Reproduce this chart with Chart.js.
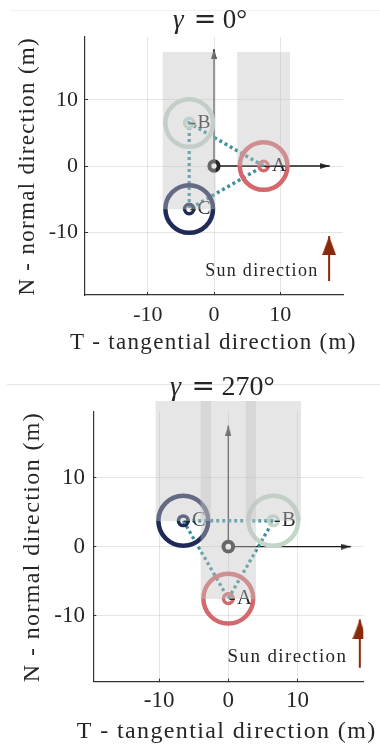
<!DOCTYPE html>
<html>
<head>
<meta charset="utf-8">
<script src="https://cdn.jsdelivr.net/npm/chart.js@4/dist/chart.umd.min.js"></script>
<style>
  html, body { margin: 0; padding: 0; background: #ffffff; }
  body { width: 380px; height: 745px; position: relative; overflow: hidden; }
  canvas { position: absolute; left: 0; }
  .rule { position: absolute; height: 1px; }
</style>
</head>
<body>
<div class="rule" style="left:10px; top:10px; width:370px; background:#f1f1f1;"></div>
<div class="rule" style="left:7px; top:384px; width:373px; background:#e6e6e6;"></div>
<canvas id="gamma0" width="380" height="370" style="top:0;"></canvas>
<canvas id="gamma270" width="380" height="375" style="top:370px;"></canvas>

<script>
// Formation of three spacecraft in the T-N plane for two sun angles.
const SAT_NAMES = ['A', 'B', 'C'];

// gamma = 0 deg
const T_0 = [7.5, -3.75, -3.75];
const N_0 = [0, 6.5, -6.5];
const SHADOW_T_0 = [-3.75, 7.5];
const SHADOW_FROM_0 = [-6.5, 0];
const SHADOW_TO_0 = [17.2, 17.2];
const SUN_ARROW_0 = [17.4, -17.4, -10.6];   // T, tail N, tip N
const AXIS_ARROW_0 = [17.5, 17.7];          // tip of T arrow, tip of N arrow
const SUN_TEXT_0 = [15.8, -15.9];

// gamma = 270 deg
const T_270 = [0, 6.5, -6.5];
const N_270 = [-7.5, 3.75, 3.75];
const SHADOW_T_270 = [-6.5, 0, 6.5];
const SHADOW_FROM_270 = [3.75, -7.5, 3.75];
const SHADOW_TO_270 = [21, 21, 21];
const SUN_ARROW_270 = [19.0, -17.5, -10.5];
const AXIS_ARROW_270 = [17.7, 17.5];
const SUN_TEXT_270 = [17.2, -16.0];

const TICK_VALUES = [-10, 0, 10];
const TICK_LABELS = ['-10', '0', '10'];
const AXIS_RANGE = [-19.5, 19.5];

// physical sizes in metres
const RING_R = 3.6;
const HUB_R = 0.7;
const SHADOW_W = 7.9;

const X_TITLE = 'T - tangential direction (m)';
const Y_TITLE = 'N - normal direction (m)';

const FONT = '"Liberation Serif", "Times New Roman", serif';
const TEXT = '#262626';
const GRID = 'rgba(38,38,38,0.12)';
const SAT_COLORS = ['#d4696d', '#c3d7c8', '#1f2a56'];
const ORIGIN_COLOR = '#262626';
const LINK_COLOR = '#3d8f9b';
const SUN_COLOR = '#8b2a0a';
const SHADE = 'rgba(196,196,196,0.42)';

// arrow head image with its tip in the middle of the canvas, pointing up
function headImage(w, len, color) {
  const c = document.createElement('canvas');
  c.width = Math.ceil(w);
  c.height = Math.ceil(len * 2);
  const g = c.getContext('2d');
  g.fillStyle = color;
  g.beginPath();
  g.moveTo(w / 2, len);
  g.lineTo(w, 2 * len);
  g.lineTo(0, 2 * len);
  g.closePath();
  g.fill();
  return c;
}

function unitPx(chart) {
  const s = chart.scales.x;
  return Math.abs(s.getPixelForValue(1) - s.getPixelForValue(0));
}

function points(T, N) {
  return T.map((t, i) => ({ x: t, y: N[i] }));
}

const annotate = {
  id: 'annotate',
  afterDatasetDraw(chart, args, o) {
    if (chart.data.datasets[args.index].label !== 'hubs') return;
    const ctx = chart.ctx, xs = chart.scales.x, ys = chart.scales.y;
    ctx.save();
    ctx.letterSpacing = o.spacing + 'px';
    ctx.font = o.labelSize + 'px ' + FONT;
    ctx.fillStyle = TEXT;
    ctx.textAlign = 'left';
    ctx.textBaseline = 'middle';
    o.names.forEach((name, i) => {
      ctx.fillText('-' + name, xs.getPixelForValue(o.T[i]) + 0.5, ys.getPixelForValue(o.N[i]));
    });
    ctx.restore();
  },
  afterDraw(chart, args, o) {
    const ctx = chart.ctx, xs = chart.scales.x, ys = chart.scales.y;
    ctx.save();
    ctx.fillStyle = TEXT;
    ctx.letterSpacing = o.spacing + 'px';

    // sun label
    ctx.font = o.sunSize + 'px ' + FONT;
    ctx.textAlign = 'right';
    ctx.textBaseline = 'middle';
    ctx.fillText('Sun direction', xs.getPixelForValue(o.sunText[0]), ys.getPixelForValue(o.sunText[1]));

    // axis titles
    ctx.font = o.axisTitleSize + 'px ' + FONT;
    ctx.textAlign = 'center';
    ctx.fillText(X_TITLE, o.xTitle[0], o.xTitle[1]);
    ctx.save();
    ctx.translate(o.yTitle[0], o.yTitle[1]);
    ctx.rotate(-Math.PI / 2);
    ctx.fillText(Y_TITLE, 0, 0);
    ctx.restore();

    // title: gamma = value
    ctx.letterSpacing = '0px';
    ctx.textAlign = 'left';
    ctx.textBaseline = 'alphabetic';
    const sz = o.titleSize;
    let x = o.titleX;
    ctx.font = 'italic ' + sz + 'px ' + FONT;
    ctx.fillText('\u03B3', x, o.titleY);
    x += ctx.measureText('\u03B3').width + 0.37 * sz;
    ctx.font = sz + 'px "DejaVu Serif"';
    ctx.fillText('=', x, o.titleY);
    x += ctx.measureText('=').width + 0.24 * sz;
    ctx.font = sz + 'px ' + FONT;
    ctx.fillText(o.value, x, o.titleY);
    ctx.restore();
  }
};

const AXIS_HEAD = headImage(6, 10, '#333333');

function buildChart(id, d, look) {
  const sats = points(d.T, d.N);
  const sunHead = headImage(look.sunHeadW, look.sunHeadL, SUN_COLOR);
  const datasets = [
    {
      label: 'shadows', type: 'bar', order: 0, clip: false,
      data: d.shadowT.map((t, i) => ({ x: t, y: [d.shadowFrom[i], d.shadowTo[i]] })),
      backgroundColor: SHADE, borderWidth: 0,
      barThickness: c => SHADOW_W * unitPx(c.chart)
    },
    {
      label: 'sun', order: 1, showLine: true, pointRadius: 0,
      data: [{ x: d.sun[0], y: d.sun[1] }, { x: d.sun[0], y: d.sun[2] }],
      borderColor: SUN_COLOR, borderWidth: 2
    },
    {
      label: 'sunHead', order: 1, pointRadius: 1,
      data: [{ x: d.sun[0], y: d.sun[2] }],
      pointStyle: sunHead
    },
    {
      label: 'hubs', order: 2,
      data: sats,
      pointRadius: c => HUB_R * unitPx(c.chart),
      pointBorderWidth: 3.5,
      pointBorderColor: SAT_COLORS,
      pointBackgroundColor: 'rgba(0,0,0,0)'
    },
    {
      label: 'rings', order: 3,
      data: sats,
      pointRadius: c => RING_R * unitPx(c.chart),
      pointBorderWidth: 4.5,
      pointBorderColor: SAT_COLORS,
      pointBackgroundColor: 'rgba(0,0,0,0)'
    },
    {
      label: 'origin', order: 3,
      data: [{ x: 0, y: 0 }],
      pointRadius: c => HUB_R * unitPx(c.chart),
      pointBorderWidth: 4,
      pointBorderColor: ORIGIN_COLOR,
      pointBackgroundColor: 'rgba(255,255,255,1)'
    },
    {
      label: 'formation', order: 4, showLine: true, pointRadius: 0,
      data: [...sats, sats[0]],
      borderColor: LINK_COLOR, borderWidth: 3.3, borderDash: [3, 3], borderCapStyle: 'butt'
    },
    {
      label: 'T axis', order: 5, showLine: true, pointRadius: 0,
      data: [{ x: 0, y: 0 }, { x: d.axisArrow[0], y: 0 }],
      borderColor: '#1a1a1a', borderWidth: 1.3
    },
    {
      label: 'N axis', order: 5, showLine: true, pointRadius: 0,
      data: [{ x: 0, y: 0 }, { x: 0, y: d.axisArrow[1] }],
      borderColor: '#333333', borderWidth: 1.3
    },
    {
      label: 'axis heads', order: 5, pointRadius: 1,
      data: [{ x: d.axisArrow[0], y: 0 }, { x: 0, y: d.axisArrow[1] }],
      pointStyle: AXIS_HEAD,
      pointRotation: [90, 0]
    }
  ];

  const tickFont = { family: FONT, size: look.tick };
  const gridOpts = { color: GRID, lineWidth: 1, drawTicks: true, tickLength: -3, tickColor: '#333333', tickWidth: 1, offset: false };

  return new Chart(document.getElementById(id), {
    type: 'scatter',
    data: { datasets },
    plugins: [annotate],
    options: {
      responsive: false,
      animation: false,
      devicePixelRatio: 1,
      events: [],
      layout: { padding: look.pad },
      plugins: {
        legend: { display: false },
        tooltip: { enabled: false },
        title: { display: false },
        annotate: {
          spacing: look.spacing,
          names: SAT_NAMES, T: d.T, N: d.N,
          labelSize: look.labelSize,
          sunSize: look.sunSize,
          sunText: d.sunText,
          axisTitleSize: look.axisTitle,
          xTitle: look.xTitle,
          yTitle: look.yTitle,
          titleSize: look.titleSize,
          titleX: look.titleX,
          titleY: look.titleY,
          value: d.value
        }
      },
      scales: {
        x: {
          type: 'linear', position: 'bottom',
          min: AXIS_RANGE[0], max: AXIS_RANGE[1], offset: false,
          afterBuildTicks: s => { s.ticks = TICK_VALUES.map(v => ({ value: v })); },
          afterFit: s => { s.height = look.xScaleH; },
          grid: gridOpts,
          border: { color: '#333333', width: 1.2 },
          ticks: {
            padding: look.tickPadX + 3, color: TEXT, font: tickFont,
            maxRotation: 0, autoSkip: false,
            callback: v => TICK_LABELS[TICK_VALUES.indexOf(v)]
          },
          title: { display: false }
        },
        y: {
          type: 'linear', position: 'left',
          min: AXIS_RANGE[0], max: AXIS_RANGE[1], beginAtZero: false,
          afterBuildTicks: s => { s.ticks = TICK_VALUES.map(v => ({ value: v })); },
          afterFit: s => { s.width = look.yScaleW; },
          grid: gridOpts,
          border: { color: '#333333', width: 1.2 },
          ticks: {
            padding: look.tickPadY + 3, color: TEXT, font: tickFont,
            autoSkip: false,
            callback: v => TICK_LABELS[TICK_VALUES.indexOf(v)]
          },
          title: { display: false }
        }
      }
    }
  });
}

buildChart('gamma0', {
  T: T_0, N: N_0,
  shadowT: SHADOW_T_0, shadowFrom: SHADOW_FROM_0, shadowTo: SHADOW_TO_0,
  sun: SUN_ARROW_0, axisArrow: AXIS_ARROW_0, sunText: SUN_TEXT_0,
  value: '0\u00B0'
}, {
  pad: { top: 37, right: 37, left: 0, bottom: 0 },
  yScaleW: 85, xScaleH: 75,
  tick: 22, axisTitle: 23, spacing: 1.3,
  tickPadX: 6.8, tickPadY: 7,
  xTitle: [213.3, 343], yTitle: [28, 166.3],
  labelSize: 19.5, sunSize: 18, titleSize: 27, titleX: 173, titleY: 28,
  sunHeadW: 14, sunHeadL: 19
});

buildChart('gamma270', {
  T: T_270, N: N_270,
  shadowT: SHADOW_T_270, shadowFrom: SHADOW_FROM_270, shadowTo: SHADOW_TO_270,
  sun: SUN_ARROW_270, axisArrow: AXIS_ARROW_270, sunText: SUN_TEXT_270,
  value: '270\u00B0'
}, {
  pad: { top: 41.7, right: 16.7, left: 0, bottom: 0 },
  yScaleW: 93.3, xScaleH: 63.3,
  tick: 23, axisTitle: 24, spacing: 1.38,
  tickPadX: 5, tickPadY: 8.3,
  xTitle: [226.7, 361.5], yTitle: [33, 177],
  labelSize: 20.5, sunSize: 19, titleSize: 28, titleX: 170, titleY: 25,
  sunHeadW: 15, sunHeadL: 20
});
</script>
</body>
</html>
